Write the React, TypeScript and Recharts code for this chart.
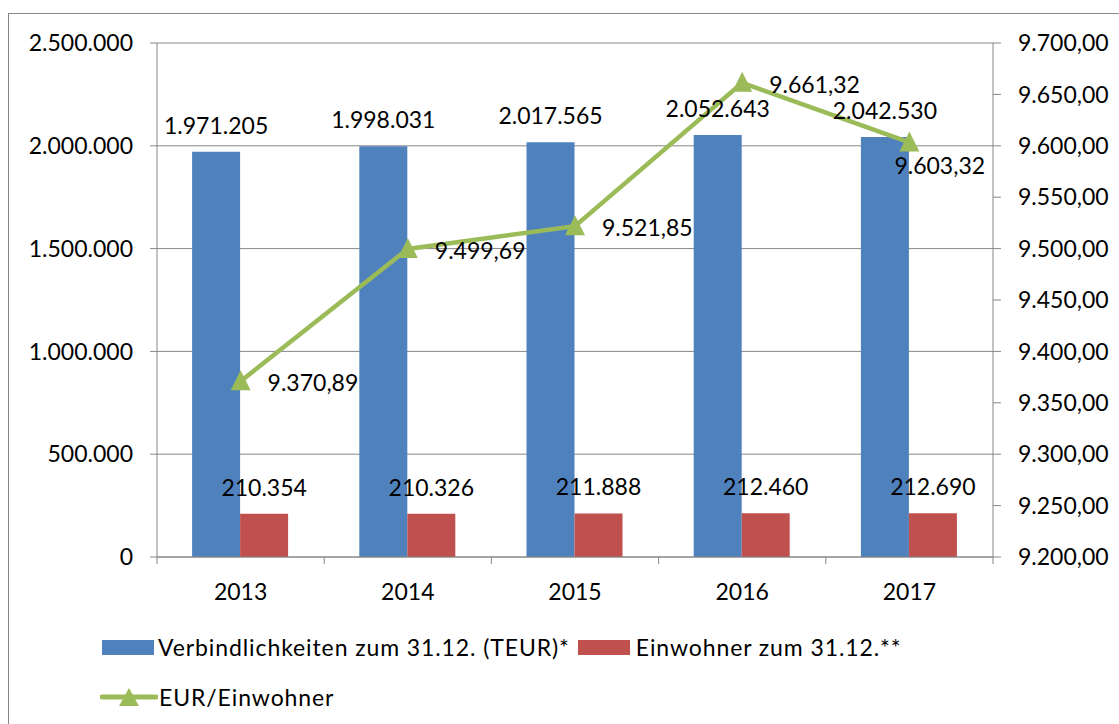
import React from "react";
import {
  Bar,
  CartesianGrid,
  ComposedChart,
  LabelList,
  Line,
  XAxis,
  YAxis,
} from "recharts";

const years = ["2013", "2014", "2015", "2016", "2017"];
const verbindlichkeiten = [1971205, 1998031, 2017565, 2052643, 2042530];
const einwohner = [210354, 210326, 211888, 212460, 212690];
const eurProEinwohner = [9370.89, 9499.69, 9521.85, 9661.32, 9603.32];

const leftTicks = [0, 500000, 1000000, 1500000, 2000000, 2500000];
const rightTicks = [9200, 9250, 9300, 9350, 9400, 9450, 9500, 9550, 9600, 9650, 9700];

const data = years.map((year, i) => ({
  year,
  verb: verbindlichkeiten[i],
  einw: einwohner[i],
  rate: eurProEinwohner[i],
}));

const BLUE = "#4F81BD";
const RED = "#C0504D";
const GREEN = "#9BBB59";
const GRID = "#878787";
const FONT = "Lato, 'Open Sans', sans-serif";
const FS = 23;

// Punkt als Tausendertrenner, Komma als Dezimalzeichen
const fmtInt = (v: number) => String(Math.round(v)).replace(/\B(?=(\d{3})+(?!\d))/g, ".");
const fmtDec = (v: number) => {
  const [a, b] = v.toFixed(2).split(".");
  return fmtInt(Number(a)) + "," + b;
};

const HALF_BAND = 836 / years.length / 2;

function YearTick(props: any) {
  const { x, y, payload, index } = props;
  const axisY = y - 27;
  return (
    <g>
      <line x1={x - HALF_BAND} x2={x - HALF_BAND} y1={axisY} y2={axisY + 7} stroke={GRID} />
      {index === years.length - 1 && (
        <line x1={x + HALF_BAND} x2={x + HALF_BAND} y1={axisY} y2={axisY + 7} stroke={GRID} />
      )}
      <text x={x} y={y} dy="0.71em" textAnchor="middle" fill="#000" fontSize={FS} fontFamily={FONT}>
        {payload.value}
      </text>
    </g>
  );
}

function Triangle(props: any) {
  const { cx, cy } = props;
  if (cx == null || cy == null) return null;
  return <polygon points={`${cx - 10},${cy + 9} ${cx + 10},${cy + 9} ${cx},${cy - 11}`} fill={GREEN} />;
}

function RateLabel(props: any) {
  const { x, y, value, index } = props;
  const last = index === eurProEinwohner.length - 1;
  return (
    <text
      x={x + (last ? -15 : 27)}
      y={y + (last ? 23 : 2)}
      dy="0.355em"
      textAnchor="start"
      fill="#000"
      fontSize={FS}
      fontFamily={FONT}
    >
      {fmtDec(value)}
    </text>
  );
}

const tickStyle = { fill: "#000", fontSize: FS, fontFamily: FONT };
const labelStyle = { fill: "#000", fontSize: FS, fontFamily: FONT };

function LegendRow({ children }: { children: React.ReactNode }) {
  return <div style={{ display: "flex", alignItems: "center", height: 30 }}>{children}</div>;
}

export default function App() {
  return (
    <div
      style={{
        position: "absolute",
        left: 8,
        top: 13,
        width: 1111,
        height: 711,
        boxSizing: "border-box",
        borderLeft: `1px solid ${GRID}`,
        borderTop: `1px solid ${GRID}`,
        background: "#fff",
        fontFamily: FONT,
      }}
    >
      <ComposedChart
        width={1110}
        height={600}
        data={data}
        margin={{ top: 29, right: 0, bottom: 0, left: 0 }}
        barCategoryGap="21%"
        barGap={0}
      >
        <CartesianGrid stroke={GRID} vertical={false} yAxisId="left" />
        <XAxis
          dataKey="year"
          height={57}
          axisLine={{ stroke: GRID }}
          tickLine={false}
          tickSize={7}
          tickMargin={20}
          tick={<YearTick />}
          interval={0}
        />
        <YAxis
          yAxisId="left"
          width={148}
          domain={[0, 2500000]}
          ticks={leftTicks}
          tickFormatter={fmtInt}
          axisLine={{ stroke: GRID }}
          tickLine={{ stroke: GRID }}
          tickSize={7}
          tickMargin={17}
          tick={tickStyle}
          interval={0}
        />
        <YAxis
          yAxisId="right"
          orientation="right"
          width={126}
          domain={[9200, 9700]}
          ticks={rightTicks}
          tickFormatter={fmtDec}
          axisLine={{ stroke: GRID }}
          tickLine={{ stroke: GRID }}
          tickSize={8}
          tickMargin={17}
          tick={{ ...tickStyle, textAnchor: "start" }}
          interval={0}
        />
        <Bar yAxisId="left" dataKey="verb" fill={BLUE} isAnimationActive={false}>
          <LabelList dataKey="verb" position="top" offset={18} formatter={(v: any) => fmtInt(v)} style={labelStyle} />
        </Bar>
        <Bar yAxisId="left" dataKey="einw" fill={RED} isAnimationActive={false}>
          <LabelList dataKey="einw" position="top" offset={18} formatter={(v: any) => fmtInt(v)} style={labelStyle} />
        </Bar>
        <Line
          yAxisId="right"
          dataKey="rate"
          stroke={GREEN}
          strokeWidth={4.5}
          dot={<Triangle />}
          activeDot={false}
          isAnimationActive={false}
        >
          <LabelList dataKey="rate" content={<RateLabel />} />
        </Line>
      </ComposedChart>

      <div
        style={{
          position: "absolute",
          left: 93,
          top: 618,
          fontSize: FS,
          letterSpacing: 0.9,
          color: "#000",
        }}
      >
        <LegendRow>
          <span style={{ width: 52, height: 15, background: BLUE, marginRight: 4 }} />
          <span>Verbindlichkeiten zum 31.12. (TEUR)*</span>
          <span style={{ width: 52, height: 15, background: RED, marginLeft: 8, marginRight: 6 }} />
          <span>Einwohner zum 31.12.**</span>
        </LegendRow>
        <div style={{ height: 20 }} />
        <LegendRow>
          <svg width={58} height={22} style={{ marginLeft: -2, marginRight: 1 }}>
            <line x1={2} x2={56} y1={11} y2={11} stroke={GREEN} strokeWidth={5} strokeLinecap="round" />
            <polygon points="19,20 39,20 29,2" fill={GREEN} />
          </svg>
          <span>EUR/Einwohner</span>
        </LegendRow>
      </div>
    </div>
  );
}
